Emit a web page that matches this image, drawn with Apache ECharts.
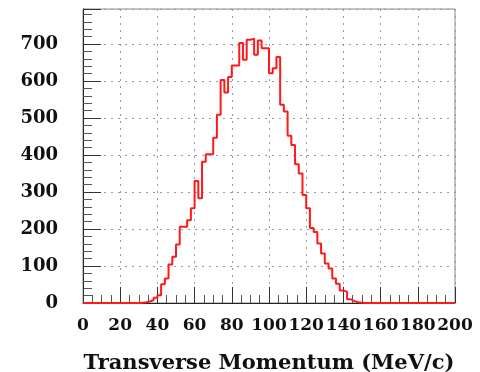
<!DOCTYPE html>
<html>
<head>
<meta charset="utf-8">
<script src="https://cdn.jsdelivr.net/npm/echarts@6/dist/echarts.min.js"></script>
<style>
  html, body { margin: 0; padding: 0; background: #fff; }
  #chart { width: 480px; height: 372px; }
</style>
</head>
<body>
<div id="chart"></div>
<script>
// Transverse momentum histogram: 100 bins of 2 MeV/c from 0 to 200
const binWidth = 2;
const xMin = 0;
const xMax = 200;
const counts = [
  0, 0, 0, 0, 0, 0, 0, 0, 0, 0,
  0, 0, 0, 0, 0, 1, 2, 4, 8, 14,
  21, 51, 66, 104, 125, 158, 206, 206, 224, 256,
  330, 283, 382, 402, 402, 447, 509, 603, 569, 611,
  642, 642, 703, 658, 712, 715, 671, 710, 689, 689,
  621, 635, 665, 536, 518, 452, 427, 375, 350, 292,
  256, 203, 192, 161, 134, 107, 93, 66, 52, 34,
  30, 10, 5, 2, 1, 0, 0, 0, 0, 0,
  0, 0, 0, 0, 0, 0, 0, 0, 0, 0,
  0, 0, 0, 0, 0, 0, 0, 0, 0, 0
];
const yTicks = [0, 100, 200, 300, 400, 500, 600, 700];
const xTitle = 'Transverse Momentum (MeV/c)';

// Step outline: one point at each bin's low edge, plus the closing edge
const stepPoints = counts.map((c, i) => [xMin + i * binWidth, c]);
stepPoints.push([xMax, counts[counts.length - 1]]);

const labelFont = {
  fontFamily: 'DejaVu Serif',
  fontWeight: 'bold',
  fontSize: 18,
  color: '#111'
};
const gridDots = { show: true, lineStyle: { color: '#9a9a9a', type: [2, 5], width: 1 } };

const chart = echarts.init(document.getElementById('chart'), null, { renderer: 'canvas' });
chart.setOption({
  animation: false,
  backgroundColor: '#fff',
  grid: {
    left: 83, right: 25, top: 9, bottom: 69,
    containLabel: false, outerBoundsMode: 'none',
    show: true, borderColor: '#888', borderWidth: 1, backgroundColor: 'transparent'
  },
  xAxis: {
    type: 'value',
    min: xMin, max: xMax, interval: 20,
    name: xTitle,
    nameLocation: 'middle',
    nameGap: 50,
    nameTextStyle: { fontFamily: 'DejaVu Serif', fontWeight: 'bold', fontSize: 21, color: '#111' },
    axisLine: { show: true, onZero: false, lineStyle: { color: '#222', width: 1 } },
    axisTick: { show: true, inside: true, length: 16, lineStyle: { color: '#333' } },
    minorTick: { show: true, splitNumber: 4, length: 8, lineStyle: { color: '#555' } },
    axisLabel: Object.assign({}, labelFont, {
      fontSize: 17, margin: 14, hideOverlap: false, showMinLabel: true, showMaxLabel: true
    }),
    splitLine: gridDots
  },
  yAxis: {
    type: 'value',
    min: 0, max: 795, interval: 100,
    axisLine: { show: true, onZero: false, lineStyle: { color: '#222', width: 1 } },
    axisTick: { show: true, inside: true, length: 18, lineStyle: { color: '#333' } },
    minorTick: { show: true, splitNumber: 5, length: 9, lineStyle: { color: '#555' } },
    axisLabel: Object.assign({
      margin: 25,
      showMaxLabel: false,
      formatter: v => (yTicks.indexOf(v) >= 0 ? String(v) : '')
    }, labelFont),
    splitLine: gridDots
  },
  series: [{
    type: 'line',
    step: 'end',
    data: stepPoints,
    symbol: 'none',
    lineStyle: { color: '#ff1a1a', width: 2 },
    z: 5
  }]
});
</script>
</body>
</html>
